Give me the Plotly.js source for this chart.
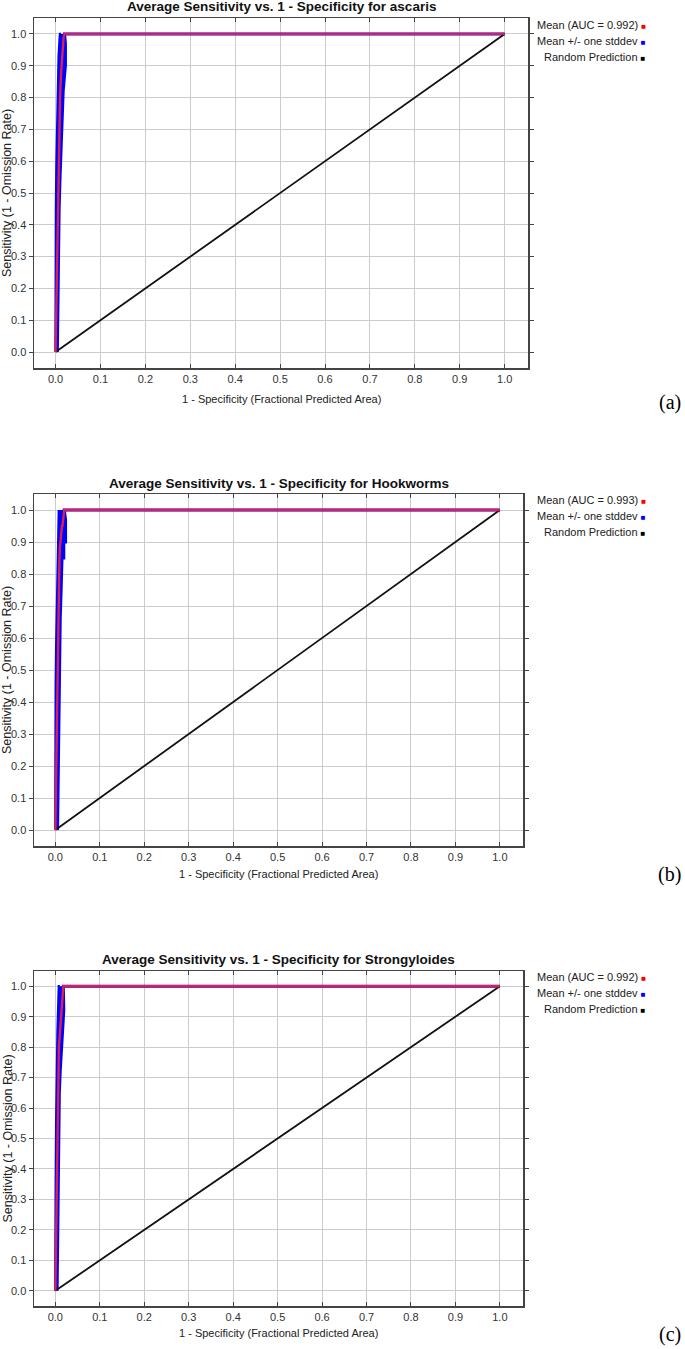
<!DOCTYPE html>
<html>
<head>
<meta charset="utf-8">
<script src="https://cdn.plot.ly/plotly-3.0.1.min.js"></script>
<style>html,body{margin:0;padding:0;background:#fff;}#chart{width:685px;height:1349px;}</style>
</head>
<body>
<div id="chart"></div>
<script>
// ---------- data ----------
const speciesNames = ["ascaris", "Hookworms", "Strongyloides"];
const aucValues = [0.992, 0.993, 0.992];
const panelLabels = ["(a)", "(b)", "(c)"];

// ascaris
const ascMeanX = [0, 0.002, 0.004, 0.005, 0.007, 0.008, 0.010, 0.012, 0.014, 0.016, 0.018, 0.020, 1.0];
const ascMeanY = [0, 0.15, 0.32, 0.45, 0.60, 0.70, 0.80, 0.87, 0.92, 0.96, 0.99, 1.0, 1.0];
const ascUpX = [0.000, 0.000, 0.001, 0.002, 0.003, 0.004, 0.006, 0.007, 0.009, 0.010, 0.012];
const ascUpY = [0.00, 0.29, 0.45, 0.58, 0.68, 0.78, 0.87, 0.93, 0.98, 1.00, 1.00];
const ascLoX = [0.004, 0.005, 0.006, 0.007, 0.008, 0.010, 0.012, 0.014, 0.017, 0.020, 0.022, 0.022, 0.020, 1.0];
const ascLoY = [0.00, 0.15, 0.25, 0.33, 0.45, 0.55, 0.65, 0.75, 0.82, 0.87, 0.90, 0.97, 1.00, 1.0];

// Hookworms
const hwMeanX = [0, 0.002, 0.003, 0.005, 0.006, 0.008, 0.009, 0.010, 0.012, 0.015, 0.016, 0.018, 0.019, 0.020, 0.022, 1.0];
const hwMeanY = [0, 0.20, 0.35, 0.50, 0.62, 0.75, 0.83, 0.88, 0.92, 0.95, 0.95, 0.97, 0.98, 1.0, 1.0, 1.0];
const hwUpX = [0.000, 0.000, 0.001, 0.002, 0.003, 0.004, 0.005, 0.006, 0.007, 0.007, 0.008];
const hwUpY = [0.00, 0.22, 0.45, 0.57, 0.66, 0.75, 0.85, 0.92, 0.98, 1.00, 1.00];
const hwLoX = [0.005, 0.006, 0.007, 0.008, 0.009, 0.011, 0.011, 0.013, 0.015, 0.015, 0.019, 0.019, 0.023, 0.023, 0.020, 1.0];
const hwLoY = [0.00, 0.12, 0.25, 0.40, 0.48, 0.57, 0.66, 0.75, 0.81, 0.85, 0.85, 0.90, 0.90, 0.97, 1.00, 1.0];

// Strongyloides
const stMeanX = [0, 0.002, 0.004, 0.005, 0.006, 0.007, 0.008, 0.010, 0.012, 0.014, 0.016, 0.018, 1.0];
const stMeanY = [0, 0.20, 0.40, 0.55, 0.65, 0.72, 0.80, 0.84, 0.88, 0.92, 0.96, 1.0, 1.0];
const stUpX = [0.000, 0.000, 0.001, 0.002, 0.003, 0.004, 0.005, 0.006, 0.007, 0.008, 0.010];
const stUpY = [0.00, 0.25, 0.35, 0.55, 0.72, 0.78, 0.85, 0.90, 0.97, 1.00, 1.00];
const stLoX = [0.004, 0.005, 0.006, 0.007, 0.008, 0.009, 0.011, 0.013, 0.015, 0.017, 0.019, 0.018, 1.0];
const stLoY = [0.00, 0.15, 0.30, 0.42, 0.55, 0.65, 0.72, 0.78, 0.84, 0.88, 0.92, 1.00, 1.0];

const randX = [0, 1];
const randY = [0, 1];

const tickVals = [0, 0.1, 0.2, 0.3, 0.4, 0.5, 0.6, 0.7, 0.8, 0.9, 1.0];
const tickText = ["0.0", "0.1", "0.2", "0.3", "0.4", "0.5", "0.6", "0.7", "0.8", "0.9", "1.0"];

// ---------- layout geometry (pixels) ----------
const W = 685, H = 1349;
const panels = [
  {left: 34, right: 528, top: 18, bottom: 368, title: 7, xtitle: 399, legend: 25, label: 402},
  {left: 34, right: 523, top: 494, bottom: 846, title: 483, xtitle: 874, legend: 500, label: 874},
  {left: 34, right: 523, top: 971, bottom: 1306, title: 959, xtitle: 1333, legend: 977, label: 1334}
];
const px = v => v / W;
const py = v => 1 - v / H;

const series = [
  {mx: ascMeanX, my: ascMeanY, ux: ascUpX, uy: ascUpY, lx: ascLoX, ly: ascLoY},
  {mx: hwMeanX, my: hwMeanY, ux: hwUpX, uy: hwUpY, lx: hwLoX, ly: hwLoY},
  {mx: stMeanX, my: stMeanY, ux: stUpX, uy: stUpY, lx: stLoX, ly: stLoY}
];

const FONT = "Liberation Sans, Arial, sans-serif";
const traces = [];
const layout = {
  width: W, height: H,
  margin: {l: 0, r: 0, t: 0, b: 0},
  paper_bgcolor: "#ffffff",
  plot_bgcolor: "#ffffff",
  showlegend: false,
  font: {family: FONT, size: 10, color: "#333333"},
  annotations: []
};

series.forEach((s, i) => {
  const n = i === 0 ? "" : String(i + 1);
  const xa = "x" + n, ya = "y" + n;
  const p = panels[i];
  // blue band: upper and lower stddev curves, filled between
  traces.push({x: s.ux, y: s.uy, xaxis: xa, yaxis: ya, mode: "lines",
    line: {color: "#0000ff", width: 2.5}, hoverinfo: "skip"});
  traces.push({x: s.lx, y: s.ly, xaxis: xa, yaxis: ya, mode: "lines", fill: "tonexty",
    fillcolor: "#0000ff", line: {color: "#0000ff", width: 3}, hoverinfo: "skip"});
  // random prediction
  traces.push({x: randX, y: randY, xaxis: xa, yaxis: ya, mode: "lines",
    line: {color: "#111111", width: 1.8}});
  // mean
  traces.push({x: s.mx, y: s.my, xaxis: xa, yaxis: ya, mode: "lines",
    line: {color: "#dc1f4c", width: 2.4}});

  const axCommon = {
    tickvals: tickVals, ticktext: tickText,
    showgrid: true, gridcolor: "#cccccc", gridwidth: 1,
    zeroline: false, showline: true, linecolor: "#444444", linewidth: 1.5,
    mirror: "ticks", ticklen: 4, tickcolor: "#444444",
    tickfont: {family: FONT, size: 11, color: "#333333"},
    fixedrange: true
  };
  layout["xaxis" + n] = Object.assign({}, axCommon, {
    domain: [px(p.left), px(p.right)], range: [-0.048, 1.052], anchor: ya,
    ticks: "inside"
  });
  layout["yaxis" + n] = Object.assign({}, axCommon, {
    domain: [py(p.bottom), py(p.top)], range: [-0.05, 1.05], anchor: xa,
    ticks: "outside"
  });

  const cx = px((p.left + p.right) / 2);
  layout.annotations.push({
    xref: "paper", yref: "paper", x: cx, y: py(p.title), xanchor: "center", yanchor: "middle",
    text: "<b>Average Sensitivity vs. 1 - Specificity for " + speciesNames[i] + "</b>",
    showarrow: false, font: {family: FONT, size: 13.5, color: "#111111"}
  });
  layout.annotations.push({
    xref: "paper", yref: "paper", x: cx, y: py(p.xtitle), xanchor: "center", yanchor: "middle",
    text: "1 - Specificity (Fractional Predicted Area)",
    showarrow: false, font: {family: FONT, size: 11, color: "#222222"}
  });
  layout.annotations.push({
    xref: "paper", yref: "paper", x: px(7), y: py((p.top + p.bottom) / 2), xanchor: "center", yanchor: "middle",
    text: "Sensitivity (1 - Omission Rate)", textangle: -90,
    showarrow: false, font: {family: FONT, size: 12.5, color: "#222222"}
  });
  const legendLines = [
    ["Mean (AUC = " + aucValues[i].toFixed(3) + ")", "#ff0000"],
    ["Mean +/- one stddev", "#0000ff"],
    ["Random Prediction", "#000000"]
  ];
  legendLines.forEach((ll, k) => {
    layout.annotations.push({
      xref: "paper", yref: "paper", x: px(648), y: py(p.legend + k * 16), xanchor: "right", yanchor: "middle",
      text: ll[0] + " <span style='color:" + ll[1] + "; font-size:8px'>■</span>",
      showarrow: false, font: {family: FONT, size: 11, color: "#222222"}
    });
  });
  layout.annotations.push({
    xref: "paper", yref: "paper", x: px(683), y: py(p.label), xanchor: "right", yanchor: "middle",
    text: panelLabels[i], showarrow: false,
    font: {family: "Liberation Serif, Times New Roman, serif", size: 20, color: "#000000"}
  });
});

Plotly.newPlot("chart", traces, layout, {displayModeBar: false, staticPlot: true});
</script>
</body>
</html>
